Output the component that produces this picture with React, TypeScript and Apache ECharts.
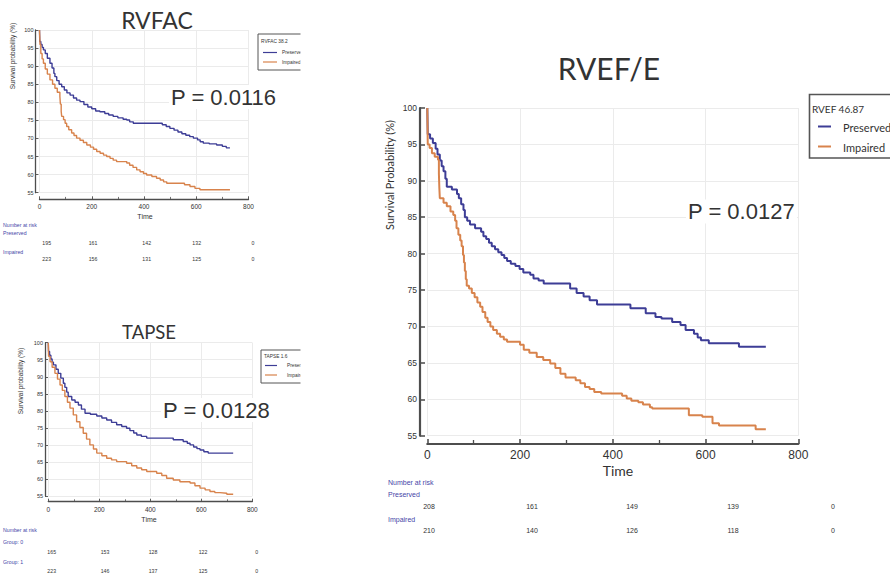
import React, { useEffect, useRef } from "react";
import * as echarts from "echarts";

// ---------------- data ----------------
const timeTicks = [0, 200, 400, 600, 800];

// RVFAC
const rvfacPreserved: [number, number][] = [
  [0, 100], [1, 96.8], [5, 96.0], [10, 95.2], [15, 94.5], [22, 93.5], [30, 92.2], [40, 90.8], [48, 89.5],
  [55, 88.0], [59, 87.1], [66, 86.0], [75, 85.0], [85, 84.3], [95, 83.4], [105, 82.6], [117, 82.0],
  [130, 81.2], [142, 80.6], [155, 80.2], [170, 79.4], [185, 78.7], [200, 78.2], [215, 77.6], [231, 77.4],
  [250, 76.9], [265, 76.5], [282, 76.1], [300, 75.7], [320, 75.3], [334, 75.1], [345, 74.6], [359, 74.2],
  [461, 74.2], [470, 73.8], [485, 73.3], [499, 72.8], [515, 72.3], [530, 71.8], [545, 71.3], [560, 70.9],
  [575, 70.5], [589, 70.1], [605, 69.6], [615, 69.1], [627, 68.7], [650, 68.5], [678, 68.2], [700, 67.8],
  [715, 67.4], [729, 67.4],
];
const rvfacImpaired: [number, number][] = [
  [0, 100], [2, 96.0], [5, 93.5], [10, 92.0], [15, 90.8], [22, 89.2], [30, 87.8], [40, 86.2], [50, 85.0],
  [59, 83.9], [68, 82.8], [78, 81.6], [80, 79.5], [83, 77.5], [85, 76.1], [92, 75.2], [98, 74.2],
  [104, 73.3], [112, 72.4], [123, 71.5], [132, 70.8], [142, 70.1], [155, 69.5], [168, 68.9], [181, 68.2],
  [195, 67.6], [207, 67.0], [219, 66.4], [232, 65.9], [245, 65.4], [257, 65.0], [270, 64.5], [282, 64.0],
  [295, 63.6], [334, 63.2], [345, 62.6], [358, 62.0], [372, 61.3], [385, 60.8], [398, 60.3], [410, 59.9],
  [430, 59.5], [448, 59.0], [462, 58.5], [475, 58.0], [487, 57.6], [538, 57.6], [555, 57.2], [576, 56.7],
  [595, 56.2], [614, 55.8], [729, 55.8],
];

// TAPSE
const tapsePreserved: [number, number][] = [
  [0, 100], [1, 97.4], [5, 96.3], [10, 95.2], [15, 94.3], [20, 93.5], [30, 92.2], [39, 91.0], [49, 89.6],
  [59, 88.1], [65, 86.9], [72, 85.5], [78, 84.2], [92, 83.2], [105, 82.5], [118, 81.7], [130, 80.5],
  [144, 79.3], [165, 79.0], [190, 78.5], [210, 77.9], [229, 77.3], [248, 76.6], [268, 75.9], [288, 75.4],
  [307, 74.9], [320, 74.2], [335, 73.5], [347, 72.9], [365, 72.5], [386, 72.0], [464, 72.0], [490, 71.5],
  [529, 71.0], [545, 70.5], [556, 70.0], [570, 69.4], [583, 68.9], [595, 68.5], [610, 68.0], [627, 67.6],
  [725, 67.6],
];
const tapseImpaired: [number, number][] = [
  [0, 100], [1, 96.0], [7, 94.4], [15, 92.8], [26, 91.0], [36, 89.3], [46, 87.6], [55, 86.0], [65, 84.2],
  [75, 82.5], [85, 80.8], [98, 78.8], [111, 76.8], [124, 75.1], [137, 73.4], [150, 71.7], [163, 70.0],
  [177, 68.8], [190, 67.6], [210, 66.8], [229, 66.1], [248, 65.6], [268, 65.1], [307, 64.6], [327, 63.9],
  [347, 63.2], [366, 62.7], [386, 62.2], [425, 61.7], [445, 61.0], [464, 60.2], [490, 59.7], [516, 59.2],
  [556, 58.8], [575, 58.0], [595, 57.3], [615, 56.8], [634, 56.3], [653, 56.0], [673, 55.8], [700, 55.5],
  [725, 55.3],
];

// RVEF/E
const rvefPreserved: [number, number][] = [
  [0, 100], [1, 96.4], [6, 95.8], [12, 95.2], [18, 94.4], [22, 93.6], [27, 92.8], [31, 92.0], [35, 91.3],
  [39, 90.3], [42, 89.2], [53, 88.8], [64, 88.2], [68, 87.6], [73, 86.8], [78, 86.0], [81, 85.0], [86, 84.5],
  [92, 84.0], [103, 83.5], [116, 83.0], [121, 82.4], [127, 82.0], [133, 81.5], [139, 81.0], [146, 80.6],
  [153, 80.2], [160, 79.8], [166, 79.4], [172, 79.0], [180, 78.6], [190, 78.3], [199, 77.9], [207, 77.4],
  [222, 77.1], [229, 76.6], [240, 76.3], [251, 75.9], [308, 75.2], [322, 74.6], [337, 74.1], [350, 73.6],
  [366, 73.0], [427, 73.0], [438, 72.5], [460, 72.5], [471, 71.8], [492, 71.3], [505, 71.1], [528, 70.6],
  [546, 70.2], [557, 69.5], [575, 69.0], [583, 68.5], [590, 68.1], [607, 67.7], [665, 67.7], [672, 67.2],
  [730, 67.2],
];
const rvefImpaired: [number, number][] = [
  [0, 100], [1, 95.0], [5, 94.5], [10, 93.8], [16, 93.3], [23, 92.9], [25, 91.0], [26, 89.0], [27, 87.6],
  [35, 87.0], [42, 86.5], [50, 85.8], [56, 85.3], [60, 84.5], [63, 83.5], [67, 82.6], [71, 81.8], [74, 81.0],
  [77, 79.8], [79, 78.8], [81, 77.6], [83, 76.5], [85, 75.6], [90, 75.2], [96, 74.6], [102, 74.0],
  [108, 73.3], [114, 72.7], [119, 72.0], [125, 71.2], [130, 70.6], [136, 70.0], [142, 69.5], [150, 69.0],
  [157, 68.6], [165, 68.2], [172, 67.9], [200, 67.5], [208, 66.8], [220, 66.4], [236, 65.8], [250, 65.4],
  [265, 64.9], [276, 64.3], [287, 63.5], [298, 63.0], [320, 62.6], [330, 62.2], [340, 61.7], [350, 61.4],
  [360, 61.0], [375, 60.8], [420, 60.5], [430, 60.1], [440, 59.8], [455, 59.6], [465, 59.3], [480, 58.9],
  [485, 58.75], [542, 58.75], [564, 57.8], [593, 57.6], [615, 56.7], [629, 56.4], [694, 56.4], [708, 55.9],
  [730, 55.9],
];

// Number at risk
const rvfacRiskPreserved = [195, 161, 142, 132, 0];
const rvfacRiskImpaired = [223, 156, 131, 125, 0];
const tapseRiskGroup0 = [165, 153, 128, 122, 0];
const tapseRiskGroup1 = [223, 146, 137, 125, 0];
const rvefRiskPreserved = [208, 161, 149, 139, 0];
const rvefRiskImpaired = [210, 140, 126, 118, 0];

// ---------------- styling / layout ----------------
const BLUE = "#3d3d96";
const ORANGE = "#d8834c";
const TXT = "#333333";
const LBLUE = "#4646a8";
const SANS = "Liberation Sans, Arial, sans-serif";
const HUM = "Lato, Open Sans, sans-serif";

type Panel = {
  left: number; top: number; width: number; height: number; xOff: number; yOff: number;
  axisW: number; tickLen: number; xFont: number; yFont: number; xMargin: number; yMargin: number; lineW: number;
};
const panels: Panel[] = [
  { left: 39.5, top: 30, width: 209, height: 162.7, xOff: 6.6, yOff: 4, axisW: 1.3, tickLen: 3, xFont: 6.5, yFont: 5.5, xMargin: 4, yMargin: 2, lineW: 1.4 },
  { left: 48.3, top: 342.7, width: 204, height: 153.3, xOff: 5.7, yOff: 3.3, axisW: 1.3, tickLen: 3, xFont: 6.5, yFont: 5.5, xMargin: 4, yMargin: 2, lineW: 1.4 },
  { left: 427.3, top: 108, width: 371, height: 327.7, xOff: 8.3, yOff: 7.3, axisW: 2.2, tickLen: 5, xFont: 12, yFont: 8.5, xMargin: 5, yMargin: 3, lineW: 2 },
];

export default function App() {
  const ref = useRef<HTMLDivElement>(null);

  useEffect(() => {
    if (!ref.current) return;
    const chart = echarts.init(ref.current, undefined, { renderer: "svg" });

    const grid = panels.map((p) => ({ left: p.left, top: p.top, width: p.width, height: p.height, containLabel: false }));
    const xAxis = panels.map((p, i) => ({
      gridIndex: i, type: "value", min: timeTicks[0], max: timeTicks[timeTicks.length - 1], interval: 200,
      offset: p.xOff,
      axisLine: { show: true, onZero: false, lineStyle: { color: "#4d4d4d", width: p.axisW } },
      axisTick: { show: true, inside: true, length: p.tickLen, lineStyle: { color: "#4d4d4d", width: p.axisW * 0.7 } },
      minorTick: { show: true, splitNumber: 2, length: p.tickLen * 0.8, lineStyle: { color: "#4d4d4d", width: p.axisW * 0.6 } },
      axisLabel: { fontSize: p.xFont, color: TXT, margin: p.xMargin, fontFamily: SANS },
      splitLine: { show: true, lineStyle: { color: "#ebebeb", width: 1 } },
    }));
    const yAxis = panels.map((p, i) => ({
      gridIndex: i, type: "value", min: 55, max: 100, interval: 5,
      offset: p.yOff,
      axisLine: { show: true, onZero: false, lineStyle: { color: "#4d4d4d", width: p.axisW } },
      axisTick: { show: true, inside: true, length: p.tickLen, lineStyle: { color: "#4d4d4d", width: p.axisW * 0.7 } },
      axisLabel: { fontSize: p.yFont, color: TXT, margin: p.yMargin, fontFamily: SANS },
      splitLine: { show: true, lineStyle: { color: "#ebebeb", width: 1 } },
    }));

    const curve = (data: [number, number][], idx: number, color: string, name: string) => ({
      type: "line", name, xAxisIndex: idx, yAxisIndex: idx, data, step: "end",
      showSymbol: false, symbol: "none", silent: true,
      lineStyle: { color, width: panels[idx].lineW },
    });

    const series = [
      curve(rvfacPreserved, 0, BLUE, "RVFAC Preserved"),
      curve(rvfacImpaired, 0, ORANGE, "RVFAC Impaired"),
      curve(tapsePreserved, 1, BLUE, "TAPSE Preserved"),
      curve(tapseImpaired, 1, ORANGE, "TAPSE Impaired"),
      curve(rvefPreserved, 2, BLUE, "RVEF Preserved"),
      curve(rvefImpaired, 2, ORANGE, "RVEF Impaired"),
    ];

    const g: any[] = [];
    const text = (x: number, y: number, t: string, size: number, opts: any = {}) =>
      g.push({
        type: "text", x, y, rotation: opts.rotation || 0, silent: true, z: opts.z || 10,
        style: {
          text: t, fontSize: size, fontFamily: opts.family || SANS, fill: opts.fill || TXT,
          align: opts.align || "left", verticalAlign: "middle", fontWeight: opts.weight || "normal",
          backgroundColor: opts.bg, padding: opts.bg ? [1, 2] : 0,
        },
      });
    const dash = (x1: number, x2: number, y: number, color: string, w: number) =>
      g.push({ type: "line", silent: true, z: 10, shape: { x1, y1: y, x2, y2: y }, style: { stroke: color, lineWidth: w } });
    const box = (x: number, y: number, w: number, h: number, lw: number, z = 9, stroke = "#555") =>
      g.push({ type: "rect", silent: true, z, shape: { x, y, width: w, height: h }, style: { fill: "#fff", stroke, lineWidth: lw } });

    // Titles
    text(157, 20, "RVFAC", 23, { family: HUM, align: "center" });
    text(149, 331.5, "TAPSE", 18.5, { family: HUM, align: "center" });
    text(609, 68, "RVEF/E", 30, { family: HUM, align: "center" });

    // P values
    text(169, 97, "P = 0.0116", 22, { bg: "#fff" });
    text(161, 410, "P = 0.0128", 22, { bg: "#fff" });
    text(686, 211.5, "P = 0.0127", 22, { bg: "#fff" });

    // Axis names
    text(12.5, 56, "Survival probability (%)", 6.5, { rotation: Math.PI / 2, align: "center" });
    text(20.5, 381, "Survival probability (%)", 6.5, { rotation: Math.PI / 2, align: "center" });
    text(389, 175, "Survival Probability (%)", 11, { rotation: Math.PI / 2, align: "center", family: HUM });
    text(145, 216, "Time", 7, { align: "center" });
    text(149, 519.5, "Time", 7, { align: "center" });
    text(618, 470, "Time", 14, { align: "center", family: HUM });

    // Legends (the small ones are cut off at the panel edge, x = 300)
    box(258, 34, 50, 36, 1);
    text(261, 41.5, "RVFAC 38.2", 4.8);
    dash(263, 277, 52.5, BLUE, 1.2);
    text(282, 52.5, "Preserved", 4.8);
    dash(263, 277, 62, ORANGE, 1.2);
    text(282, 62, "Impaired", 4.8);

    box(261, 350, 50, 33, 1);
    text(264, 356, "TAPSE 1.6", 4.8);
    dash(265, 277, 365.5, BLUE, 1.2);
    text(287, 365.5, "Preserved", 4.8);
    dash(265, 277, 375, ORANGE, 1.2);
    text(287, 375, "Impaired", 4.8);

    box(300.5, 28, 30, 50, 0, 20, "#fff");
    box(300.5, 344, 30, 45, 0, 20, "#fff");

    box(809.5, 94.5, 100, 63.5, 1.6);
    text(812, 109, "RVEF 46.87", 10, { family: HUM });
    dash(818, 831, 126.5, BLUE, 2);
    text(843, 127, "Preserved", 11, { family: HUM });
    dash(818, 831, 146.5, ORANGE, 2);
    text(843, 147, "Impaired", 11, { family: HUM });

    // Number at risk tables
    const riskTable = (
      cols: number[], rows: number[][], labels: string[], labelX: number, headY: number,
      labelYs: number[], rowYs: number[], labelSize: number, numSize: number
    ) => {
      text(labelX, headY, "Number at risk", labelSize, { fill: LBLUE });
      rows.forEach((row, r) => {
        text(labelX, labelYs[r], labels[r], labelSize, { fill: LBLUE });
        row.forEach((v, c) => text(cols[c], rowYs[r], String(v), numSize, { align: "center" }));
      });
    };
    riskTable([46.7, 93, 146.7, 196.7, 253], [rvfacRiskPreserved, rvfacRiskImpaired], ["Preserved", "Impaired"],
      3, 225, [233, 251.5], [242.7, 258.5], 5.2, 5.2);
    riskTable([51.7, 105, 153, 203, 256.7], [tapseRiskGroup0, tapseRiskGroup1], ["Group: 0", "Group: 1"],
      3, 529.5, [542, 561.5], [551.7, 570.5], 5.2, 5.2);
    riskTable([429, 532, 632, 733, 833], [rvefRiskPreserved, rvefRiskImpaired], ["Preserved", "Impaired"],
      388, 482.5, [494, 519], [506, 530], 7, 7);

    chart.setOption({
      animation: false,
      backgroundColor: "#ffffff",
      grid, xAxis, yAxis, series, graphic: g,
    } as any);

    return () => chart.dispose();
  }, []);

  return (
    <div
      ref={ref}
      style={{ position: "absolute", left: 0, top: 0, width: 890, height: 573, background: "#fff" }}
    />
  );
}
